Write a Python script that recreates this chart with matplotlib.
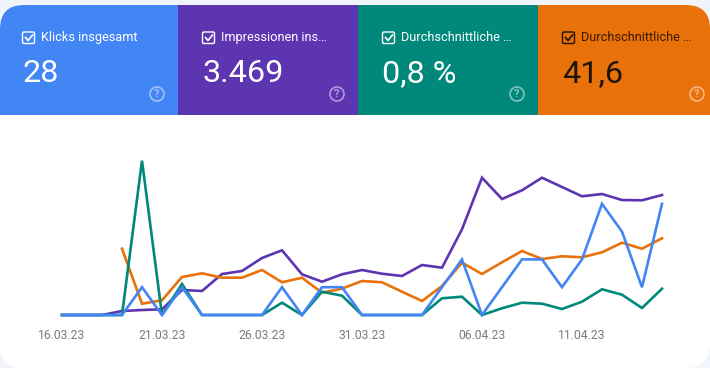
import matplotlib
matplotlib.use("Agg")
import matplotlib.pyplot as plt
import matplotlib.dates as mdates
from matplotlib.patches import FancyBboxPatch, Rectangle, Circle
import numpy as np
import pandas as pd

W, H = 710, 368

dates = pd.date_range("2023-03-16", periods=31)
tick_dates = ["2023-03-16", "2023-03-21", "2023-03-26", "2023-03-31", "2023-04-06", "2023-04-11"]

# heights above the baseline
impressions = [0, 0, 0, 4, 5, 5.7, 25, 24, 41, 44, 57, 64.7, 40.7, 33.3, 40.7, 45, 41.3, 39, 50, 47.3, 85.7,
               137.3, 116, 124.7, 137.3, 128, 118.7, 121, 115, 114.7, 120]
position = [None, None, None, 66.3, 11.3, 14.7, 38, 41.7, 37.3, 37.3, 45, 32.7, 37.3, 22.3, 26.3, 34, 32.7, 23.3,
            14, 29, 52.3, 41, 52.7, 64, 56, 58.7, 57.7, 62.7, 72.3, 66.3, 76.7]
ctr = [0, 0, 0, 0, 154.3, 0, 31, 0, 0, 0, 0, 12.3, 0, 23.3, 19.3, 0, 0, 0, 0, 16.7, 18.3, 0, 6.7, 12.3, 11.3, 6,
       13.3, 25.7, 20.3, 7, 26.3]
clicks = [0, 0, 0, 0, 1, 0, 1, 0, 0, 0, 0, 1, 0, 1, 1, 0, 0, 0, 0, 1, 2, 0, 1, 2, 2, 1, 2, 4, 3, 1, 4]
CLICK_HEIGHT = 27.8

card_titles = ["Klicks insgesamt", "Impressionen ins\u2026", "Durchschnittliche \u2026", "Durchschnittliche \u2026"]
card_values = ["28", "3.469", "0,8 %", "41,6"]
card_colors = ["#4285f4", "#5e35b1", "#00897b", "#e8710a"]
card_edges = [0, 178, 358, 538, 710]
BLUE, PURPLE, TEAL, ORANGE = card_colors

plt.rcParams["font.family"] = ["Roboto", "DejaVu Sans"]

fig = plt.figure(figsize=(W / 100, H / 100), dpi=100, facecolor="#f1f4fb")

# page layer in pixel coordinates
bg = fig.add_axes([0, 0, 1, 1])
bg.set_xlim(0, W)
bg.set_ylim(H, 0)
bg.axis("off")

card = FancyBboxPatch((0, 5), W, H - 5, boxstyle="round,pad=0,rounding_size=24", fc="white", ec="none")
bg.add_patch(card)

for i in range(4):
    left, right = card_edges[i], card_edges[i + 1]
    r = Rectangle((left, 5), right - left, 110, fc=card_colors[i], ec="none")
    bg.add_patch(r)
    r.set_clip_path(card)

    fg = "#1f1408" if i == 3 else "white"
    title_col = "#3a1a04" if i == 3 else "white"
    x0 = left + (22 if i == 0 else 24)
    # checkbox
    bg.add_patch(FancyBboxPatch((x0 + 0.5, 32), 12, 11.5, boxstyle="round,pad=0,rounding_size=1.5", fc="none", ec=fg, lw=1.0))
    bg.plot([x0 + 3.5, x0 + 6, x0 + 10.5], [37.5, 40.5, 35], color=fg, lw=1.2)
    bg.text(x0 + 19, 37.2, card_titles[i], color=title_col, fontsize=9.2, va="center", ha="left")
    bg.text(x0, 73.5, card_values[i], color=fg, fontsize=23.3, va="center", ha="left")
    # help icon
    hx = right - 21 if i < 3 else right - 13
    bg.add_patch(Circle((hx, 94), 7, fc="none", ec="white", lw=1.2, alpha=0.5))
    bg.text(hx, 94, "?", color="white", alpha=0.5, fontsize=8, ha="center", va="center", fontweight="bold")

# chart layer: x in days, y in px height above the baseline
ax = fig.add_axes([0, 0, 1, 1], facecolor="none")
x0_px, x1_px = 62, 662
base_px = 315
day_px = (x1_px - x0_px) / 30
ax.set_xlim(dates[0] - pd.Timedelta(days=x0_px / day_px), dates[0] + pd.Timedelta(days=(W - x0_px) / day_px))
ax.set_ylim(base_px - H, base_px)

lw = 1.9
ax.plot(dates, impressions, color=PURPLE, lw=lw, solid_joinstyle="miter")
ax.plot(dates, [np.nan if v is None else v for v in position], color=ORANGE, lw=lw, solid_joinstyle="miter")
ax.plot(dates, ctr, color=TEAL, lw=lw, solid_joinstyle="miter")
ax.plot(dates, np.array(clicks) * CLICK_HEIGHT, color=BLUE, lw=lw, solid_joinstyle="miter")

ax.set_xticks(pd.to_datetime(tick_dates))
ax.xaxis.set_major_formatter(mdates.DateFormatter("%d.%m.%y"))
ax.set_yticks([])
ax.tick_params(axis="x", direction="in", length=0, pad=-28, labelsize=8.7, labelcolor="#7a7a80")
for s in ax.spines.values():
    s.set_visible(False)

fig.savefig("out.png", dpi=100, facecolor=fig.get_facecolor())
